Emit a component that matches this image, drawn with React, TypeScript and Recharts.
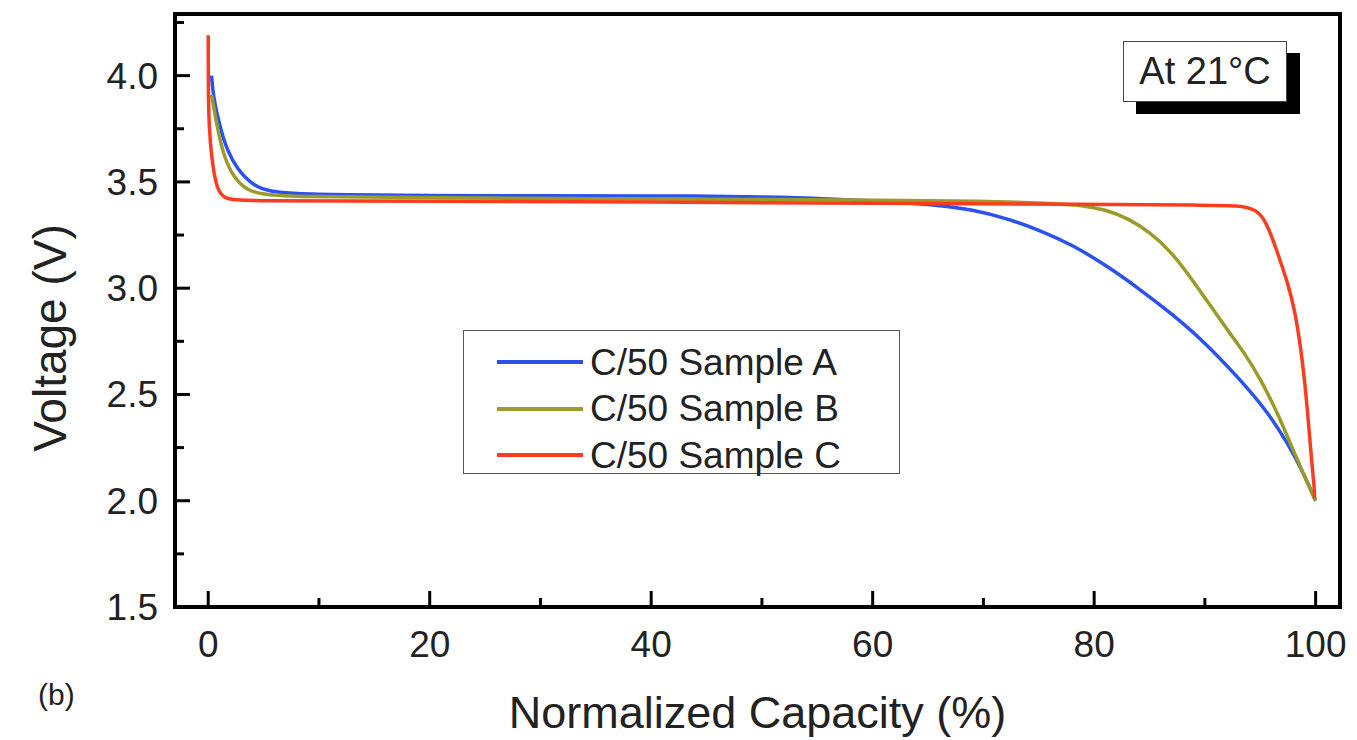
import React from "react";
import { LineChart, Line, XAxis, YAxis, Legend, ReferenceArea } from "recharts";

// Sample A (blue)
const capA = [0.3, 0.45, 1.1, 1.7, 2.6, 4.1, 5.6, 7.7, 12, 20, 30, 40, 53, 58, 62, 66, 69, 72, 75, 78, 81, 84, 87, 90, 93, 95.5, 97.5, 99, 100];
const voltA = [4.0, 3.9, 3.75, 3.65, 3.56, 3.48, 3.455, 3.445, 3.44, 3.435, 3.435, 3.435, 3.43, 3.415, 3.405, 3.39, 3.37, 3.33, 3.275, 3.205, 3.11, 3.0, 2.88, 2.745, 2.58, 2.43, 2.27, 2.12, 2.0];

// Sample B (olive)
const capB = [0.3, 0.8, 1.4, 2.3, 3.5, 5, 8, 20, 40, 60, 70, 76, 79, 81, 83, 85, 87, 89, 91, 92.5, 93.5, 95, 96.5, 98, 99.2, 100];
const voltB = [3.91, 3.76, 3.62, 3.52, 3.46, 3.44, 3.43, 3.425, 3.42, 3.415, 3.41, 3.4, 3.39, 3.37, 3.33, 3.265, 3.17, 3.03, 2.88, 2.77, 2.7, 2.575, 2.42, 2.235, 2.09, 2.0];

// Sample C (red)
const capC = [0, 0, 0.05, 0.35, 0.8, 1.5, 3, 20, 40, 60, 80, 90, 93.1, 94.6, 95.3, 96.0, 96.8, 97.5, 98.1, 98.6, 99.0, 99.3, 99.6, 99.9, 99.9];
const voltC = [4.19, 4.0, 3.76, 3.59, 3.46, 3.42, 3.41, 3.41, 3.405, 3.4, 3.395, 3.39, 3.39, 3.37, 3.33, 3.25, 3.13, 3.02, 2.9, 2.74, 2.57, 2.4, 2.21, 2.05, 2.01];

const xTicks = [0, 10, 20, 30, 40, 50, 60, 70, 80, 90, 100];
const yTicks = [1.5, 1.75, 2.0, 2.25, 2.5, 2.75, 3.0, 3.25, 3.5, 3.75, 4.0, 4.25];

const X_DOMAIN: [number, number] = [-3, 102.2];
const Y_DOMAIN: [number, number] = [1.5, 4.29];

const series = [
    { name: "C/50 Sample A", color: "#2a52f0", cap: capA, volt: voltA },
    { name: "C/50 Sample B", color: "#9b9b2a", cap: capB, volt: voltB },
    { name: "C/50 Sample C", color: "#ff3b1f", cap: capC, volt: voltC },
];

const FONT = '"Liberation Sans", Arial, sans-serif';

const XTick = (props: any) => {
    const { x, y, payload } = props;
    const major = payload.value % 20 === 0;
    return (
        <g>
            <line x1={x} x2={x} y1={y} y2={y - (major ? 16 : 9)} stroke="#000" strokeWidth={3} />
            {major && (
                <text x={x} y={y + 50} textAnchor="middle" fontSize={37} fill="#222" fontFamily={FONT}>
                    {payload.value}
                </text>
            )}
        </g>
    );
};

const YTick = (props: any) => {
    const { x, y, payload } = props;
    const major = Math.abs((payload.value * 2) % 1) < 1e-6;
    return (
        <g>
            <line x1={x} x2={x + (major ? 15 : 9)} y1={y} y2={y} stroke="#000" strokeWidth={3} />
            {major && (
                <text x={x - 17} y={y + 13} textAnchor="end" fontSize={37} fill="#222" fontFamily={FONT}>
                    {payload.value.toFixed(1)}
                </text>
            )}
        </g>
    );
};

const VoltLabel = (props: any) => {
    const { viewBox } = props;
    const cx = viewBox.x + 50;
    const cy = 338;
    return (
        <text
            transform={`translate(${cx},${cy}) rotate(-90)`}
            textAnchor="middle"
            dominantBaseline="central"
            fontSize={46}
            fill="#222"
            fontFamily={FONT}
        >
            Voltage (V)
        </text>
    );
};

const LegendBox = (props: any) => {
    const { payload } = props;
    return (
        <div
            style={{
                width: 437,
                height: 144,
                border: "1.5px solid #555",
                boxSizing: "border-box",
                background: "#fff",
                paddingTop: 8,
                fontFamily: FONT,
            }}
        >
            {(payload || []).map((entry: any) => (
                <div key={entry.value} style={{ display: "flex", alignItems: "center", height: 46.5 }}>
                    <span style={{ display: "inline-block", width: 86, height: 4, background: entry.color, marginLeft: 33 }} />
                    <span style={{ marginLeft: 7, fontSize: 37, color: "#222", lineHeight: 1 }}>{entry.value}</span>
                </div>
            ))}
        </div>
    );
};

export default function App() {
    return (
        <div style={{ position: "absolute", left: 0, top: 0, width: 1357, height: 740, background: "#fff" }}>
            <LineChart width={1357} height={740} margin={{ top: 14, right: 17, left: 0, bottom: 0 }}>
                <XAxis
                    xAxisId="main"
                    type="number"
                    dataKey="x"
                    domain={X_DOMAIN}
                    allowDataOverflow
                    ticks={xTicks}
                    interval={0}
                    height={133}
                    tickSize={0}
                    tickMargin={0}
                    tickLine={false}
                    tick={<XTick />}
                    axisLine={false}
                    label={{
                        value: "Normalized Capacity (%)",
                        position: "insideBottom",
                        offset: 12,
                        style: { fontSize: 45, fill: "#222", fontFamily: FONT },
                    }}
                />
                <YAxis
                    yAxisId="main"
                    type="number"
                    domain={Y_DOMAIN}
                    allowDataOverflow
                    ticks={yTicks}
                    interval={0}
                    width={175}
                    tickSize={0}
                    tickMargin={0}
                    tickLine={false}
                    tick={<YTick />}
                    axisLine={false}
                    label={<VoltLabel />}
                />
                {series.map((s) => (
                    <Line
                        key={s.name}
                        xAxisId="main"
                        yAxisId="main"
                        name={s.name}
                        data={s.cap.map((c, i) => ({ x: c, v: s.volt[i] }))}
                        dataKey="v"
                        type="basis"
                        stroke={s.color}
                        strokeWidth={3.5}
                        dot={false}
                        isAnimationActive={false}
                    />
                ))}
                {/* plot frame */}
                <ReferenceArea
                    xAxisId="main"
                    yAxisId="main"
                    x1={X_DOMAIN[0]}
                    x2={X_DOMAIN[1]}
                    y1={Y_DOMAIN[0]}
                    y2={Y_DOMAIN[1]}
                    fill="none"
                    fillOpacity={0}
                    stroke="#000"
                    strokeWidth={4}
                    ifOverflow="visible"
                />
                <Legend
                    layout="vertical"
                    align="center"
                    verticalAlign="middle"
                    content={<LegendBox />}
                    wrapperStyle={{ left: 463, top: 330, width: 437, height: 144 }}
                />
            </LineChart>
            <div
                style={{
                    position: "absolute",
                    left: 1123,
                    top: 41,
                    width: 164,
                    height: 61,
                    boxSizing: "border-box",
                    border: "1.5px solid #444",
                    background: "#fff",
                    boxShadow: "13px 12px 0 #000",
                    fontFamily: FONT,
                    fontSize: 38,
                    color: "#222",
                    display: "flex",
                    alignItems: "center",
                    justifyContent: "center",
                }}
            >
                At 21°C
            </div>
            <div style={{ position: "absolute", left: 38, top: 678, fontFamily: FONT, fontSize: 30, color: "#222" }}>(b)</div>
        </div>
    );
}
